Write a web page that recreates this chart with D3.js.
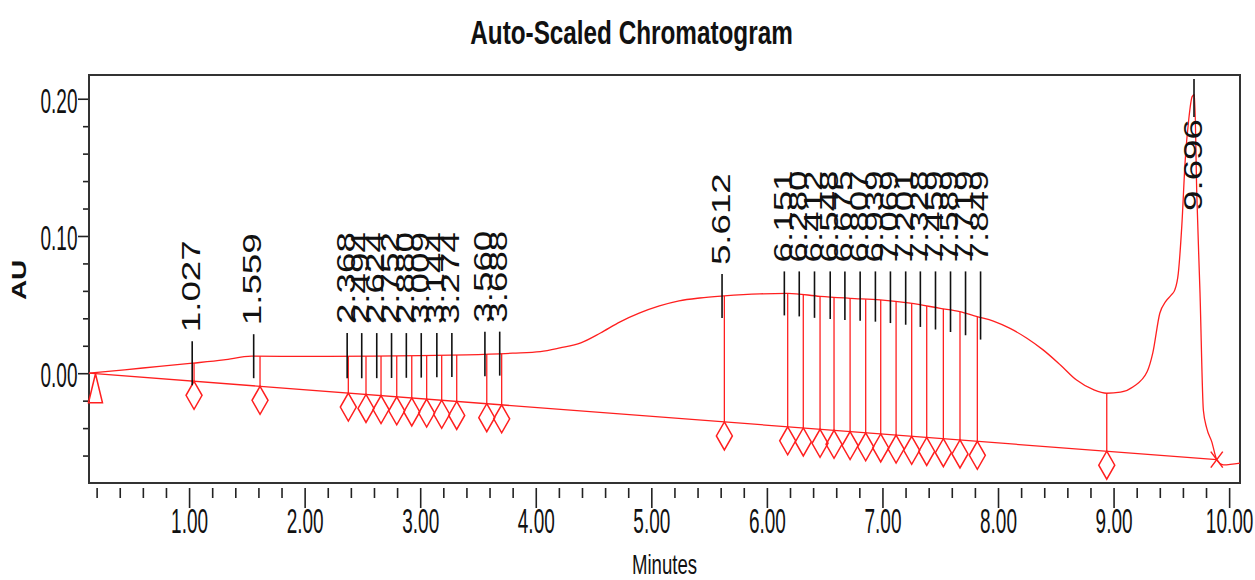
<!DOCTYPE html>
<html>
<head>
<meta charset="utf-8">
<script src="https://cdn.jsdelivr.net/npm/d3@7"></script>
<style>
body { margin: 0; background: #fff; }
svg { display: block; font-family: "Liberation Sans", Arial, sans-serif; }
</style>
</head>
<body>
<div id="container"></div>
<script>
// trace (minutes, AU)
const signalTime = [0.134, 0.60, 1.031, 1.30, 1.54, 1.80, 2.20, 2.60, 3.00, 3.40, 3.80, 4.04, 4.21, 4.39, 4.56, 4.73,
    4.90, 5.07, 5.24, 5.42, 5.63, 5.94, 6.18, 6.46, 6.72, 6.98, 7.24, 7.50, 7.67, 7.82, 7.96, 8.10, 8.25, 8.39,
    8.54, 8.68, 8.83, 8.94, 9.06, 9.17, 9.29, 9.34, 9.40, 9.45, 9.50, 9.53, 9.56, 9.59, 9.62, 9.65, 9.68, 9.70,
    9.72, 9.748, 9.777, 9.806, 9.85, 9.893, 9.95, 10.094];
const signalAU = [0.0, 0.0038, 0.0073, 0.0097, 0.0124, 0.0123, 0.0122, 0.0124, 0.0128, 0.0134, 0.0146, 0.0157, 0.0184,
    0.0221, 0.0293, 0.0374, 0.0439, 0.0490, 0.0527, 0.0548, 0.0563, 0.0578, 0.0582, 0.0560, 0.0546, 0.0534, 0.0510,
    0.0473, 0.0449, 0.0412, 0.0380, 0.0328, 0.0255, 0.0170, 0.0060, -0.0050, -0.0122, -0.0146, -0.0138, -0.0098,
    0.0010, 0.0150, 0.0437, 0.0521, 0.0570, 0.0607, 0.0728, 0.1068, 0.1553, 0.1845, 0.2015, 0.2030, 0.1310, 0.0583,
    -0.0270, -0.0400, -0.0500, -0.0630, -0.0668, -0.0655];

const baselineTime = [0.134, 9.893];
const baselineAU = [0.0, -0.063];

const peakLabels = ["1.027", "1.559", "2.368", "2.494", "2.624", "2.752", "2.880", "3.009", "3.144", "3.274",
    "3.560", "3.688", "5.612", "6.151", "6.280", "6.412", "6.548", "6.675", "6.807", "6.939", "7.069", "7.201",
    "7.328", "7.459", "7.589", "7.719", "7.849", "9.696"];

const dropTimes = [1.043, 1.614, 2.378, 2.531, 2.661, 2.797, 2.927, 3.056, 3.186, 3.316, 3.576, 3.705, 5.632,
    6.180, 6.315, 6.460, 6.581, 6.720, 6.855, 6.985, 7.118, 7.253, 7.383, 7.527, 7.671, 7.821, 8.941];

const startMarkerTime = 0.19;
const endMarkerTime = 9.893;

const xMajorTicks = [1, 2, 3, 4, 5, 6, 7, 8, 9, 10];
const xMinorTicks = [0.2, 0.4, 0.6, 0.8, 1.2, 1.4, 1.6, 1.8, 2.2, 2.4, 2.6, 2.8, 3.2, 3.4, 3.6, 3.8, 4.2, 4.4,
    4.6, 4.8, 5.2, 5.4, 5.6, 5.8, 6.2, 6.4, 6.6, 6.8, 7.2, 7.4, 7.6, 7.8, 8.2, 8.4, 8.6, 8.8, 9.2, 9.4, 9.6, 9.8];
const yMajorTicks = [0.0, 0.1, 0.2];
const yMinorTicks = [-0.06, -0.04, -0.02, 0.02, 0.04, 0.06, 0.08, 0.12, 0.14, 0.16, 0.18];

const W = 1255, H = 580;
const plot = {left: 89, right: 1240, top: 75, bottom: 483};
const red = "#ff1f1f";
const ink = "#111";

const svg = d3.select("#container")
        .append("svg")
        .attr("width", W)
        .attr("height", H);

const x = d3.scaleLinear()
        .domain([0.134, 10.094])
        .range([plot.left, plot.right]);

const y = d3.scaleLinear()
        .domain([-0.08, 0.2173])
        .range([plot.bottom, plot.top]);

// piecewise linear lookups for drop lines
const signalAt = d3.scaleLinear().domain(signalTime).range(signalAU);
const baselineAt = d3.scaleLinear().domain(baselineTime).range(baselineAU);

// title and axis titles (source fonts are tall and narrow)
svg.append("text")
    .attr("transform", "translate(631.5,44) scale(1,1.38)")
    .attr("text-anchor", "middle")
    .attr("font-weight", "bold")
    .attr("font-size", 24.3)
    .attr("fill", ink)
    .text("Auto-Scaled Chromatogram");

svg.append("text")
    .attr("transform", "translate(664.5,574) scale(1,1.45)")
    .attr("text-anchor", "middle")
    .attr("font-size", 18.6)
    .attr("fill", ink)
    .text("Minutes");

svg.append("text")
    .attr("transform", "translate(26,280) rotate(-90) scale(1.43,1)")
    .attr("text-anchor", "middle")
    .attr("font-weight", "bold")
    .attr("font-size", 19.5)
    .attr("fill", ink)
    .text("AU");

// axes
const yMinor = svg.append("g")
    .attr("transform", `translate(${plot.left},0)`)
    .call(d3.axisLeft(y).tickValues(yMinorTicks).tickSize(6).tickFormat(""));
const yMajor = svg.append("g")
    .attr("transform", `translate(${plot.left},0)`)
    .call(d3.axisLeft(y).tickValues(yMajorTicks).tickSize(11).tickPadding(0).tickFormat(d3.format(".2f")));

const xMinor = svg.append("g")
    .attr("transform", `translate(0,${plot.bottom + 5})`)
    .call(d3.axisBottom(x).tickValues(xMinorTicks).tickSize(10).tickFormat(""));
const xMajor = svg.append("g")
    .attr("transform", `translate(0,${plot.bottom + 5})`)
    .call(d3.axisBottom(x).tickValues(xMajorTicks).tickSize(20).tickFormat(d3.format(".2f")));

[yMinor, yMajor, xMinor, xMajor].forEach(g => {
    g.select(".domain").remove();
    g.selectAll("line").attr("stroke", "#222").attr("stroke-width", 1.6);
});

yMajor.selectAll("text")
    .attr("x", null).attr("dy", null)
    .attr("transform", "translate(-11.5,13.5) scale(1,1.8)")
    .attr("font-size", 19)
    .attr("font-family", "Liberation Sans, Arial, sans-serif")
    .attr("fill", ink);

xMajor.selectAll("text")
    .attr("y", null).attr("dy", null)
    .attr("transform", "translate(0,45) scale(1,1.8)")
    .attr("font-size", 19)
    .attr("font-family", "Liberation Sans, Arial, sans-serif")
    .attr("fill", ink);

// frame
svg.append("rect")
    .attr("x", plot.left)
    .attr("y", plot.top)
    .attr("width", plot.right - plot.left)
    .attr("height", plot.bottom - plot.top)
    .attr("fill", "none")
    .attr("stroke", "#333")
    .attr("stroke-width", 2);

const chart = svg.append("g");

// baseline and trace
chart.append("path")
    .datum(baselineTime.map((t, i) => [t, baselineAU[i]]))
    .attr("d", d3.line().x(d => x(d[0])).y(d => y(d[1])))
    .attr("fill", "none")
    .attr("stroke", red)
    .attr("stroke-width", 1.3);

chart.append("path")
    .datum(signalTime.map((t, i) => [t, signalAU[i]]))
    .attr("d", d3.line().x(d => x(d[0])).y(d => y(d[1])).curve(d3.curveMonotoneX))
    .attr("fill", "none")
    .attr("stroke", red)
    .attr("stroke-width", 1.3);

// drop lines with diamonds at the baseline
chart.selectAll(".drop")
    .data(dropTimes)
    .enter()
    .append("line")
    .attr("class", "drop")
    .attr("x1", d => x(d)).attr("x2", d => x(d))
    .attr("y1", d => y(signalAt(d)))
    .attr("y2", d => y(baselineAt(d)))
    .attr("stroke", red)
    .attr("stroke-width", 1.3);

chart.selectAll(".diamond")
    .data(dropTimes)
    .enter()
    .append("path")
    .attr("class", "diamond")
    .attr("transform", d => `translate(${x(d)},${y(baselineAt(d)) + 14})`)
    .attr("d", "M0,-14L8,0L0,14L-8,0Z")
    .attr("fill", "none")
    .attr("stroke", red)
    .attr("stroke-width", 1.5);

// start triangle and end cross
const sx = x(startMarkerTime), sy = y(baselineAt(startMarkerTime));
chart.append("path")
    .attr("d", `M${sx},${sy}L${sx + 7},${sy + 29}L${sx - 7},${sy + 29}Z`)
    .attr("fill", "none")
    .attr("stroke", red)
    .attr("stroke-width", 1.5);

const ex = x(endMarkerTime), ey = y(baselineAt(endMarkerTime));
chart.append("path")
    .attr("d", `M${ex - 6},${ey - 8}L${ex + 6},${ey + 8}M${ex + 6},${ey - 8}L${ex - 6},${ey + 8}`)
    .attr("stroke", red)
    .attr("stroke-width", 1.5);

// peak apex ticks and labels
const peaks = peakLabels.map(s => ({label: s, t: +s, ys: y(signalAt(+s))}));
let gid = 0;
peaks.forEach((p, i) => {
    if (i > 0 && x(p.t) - x(peaks[i - 1].t) > 20) gid++;
    p.group = gid;
});
const groupTop = d3.rollup(peaks, v => d3.min(v, p => p.ys) - 22, p => p.group);
const labelLen = 25 * 2.502 * 1.47;

peaks.forEach(p => {
    p.top = Math.max(groupTop.get(p.group), plot.top + 4);
    p.bottom = p.ys + 22;
    p.below = p.top - 9 - labelLen < plot.top;
});

chart.selectAll(".apex")
    .data(peaks)
    .enter()
    .append("line")
    .attr("class", "apex")
    .attr("x1", d => x(d.t)).attr("x2", d => x(d.t))
    .attr("y1", d => d.top)
    .attr("y2", d => d.bottom)
    .attr("stroke", ink)
    .attr("stroke-width", 1.6);

chart.selectAll(".peak-label")
    .data(peaks)
    .enter()
    .append("text")
    .attr("class", "peak-label")
    .attr("transform", d => `translate(${x(d.t)},${d.below ? d.bottom + 2 : d.top - 9}) rotate(-90) scale(1.47,1)`)
    .attr("text-anchor", d => d.below ? "end" : "start")
    .attr("dy", "0.3em")
    .attr("font-size", 25)
    .attr("fill", ink)
    .text(d => d.label);
</script>
</body>
</html>
